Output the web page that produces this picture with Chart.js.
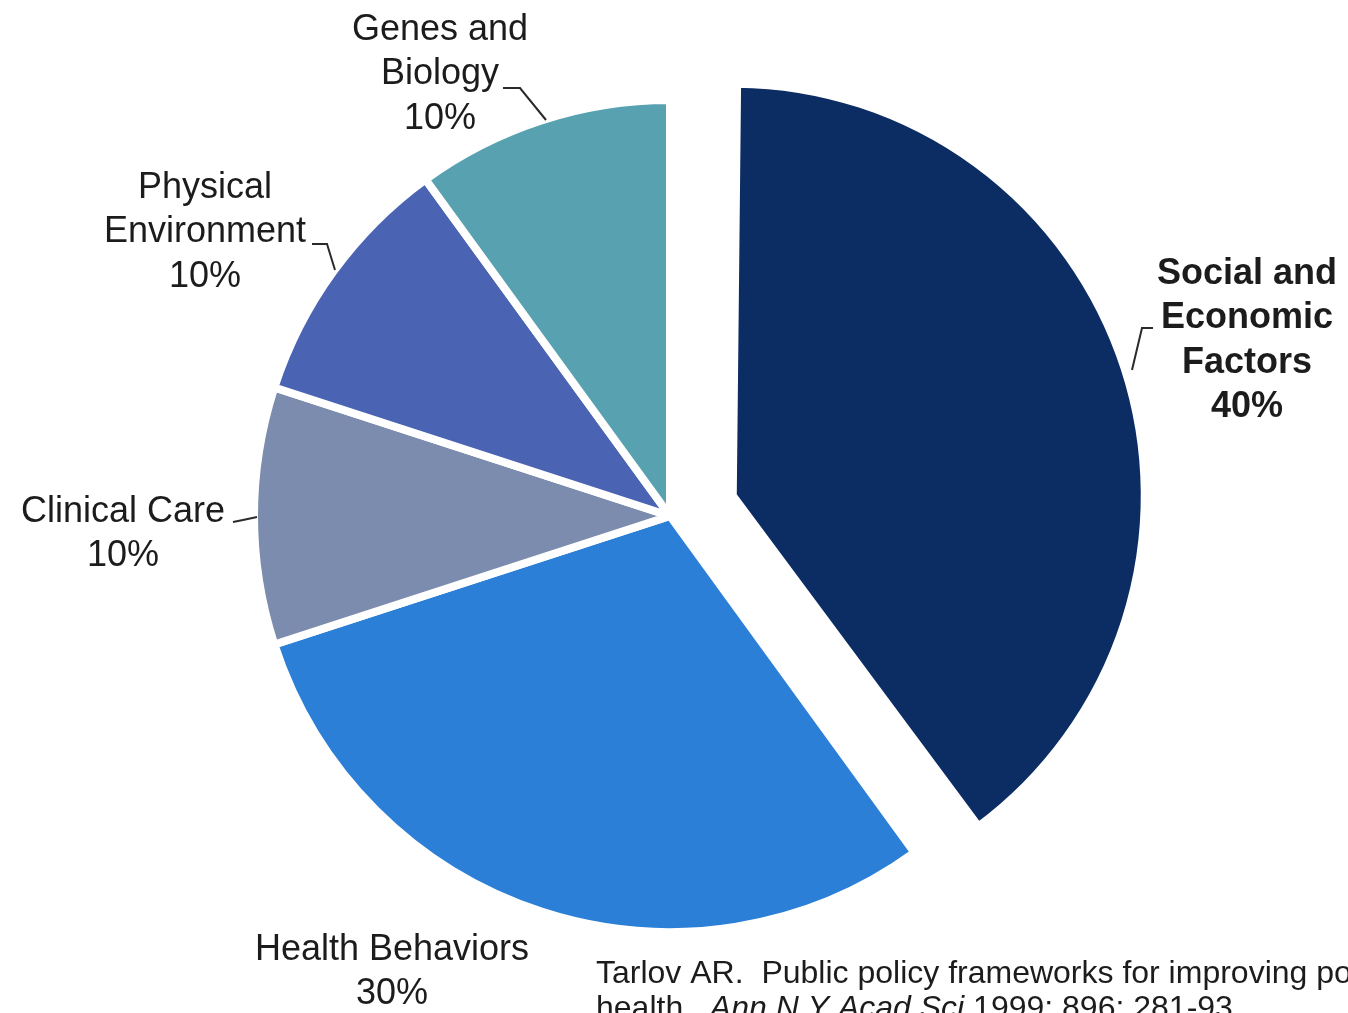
<!DOCTYPE html>
<html lang="en">
<head>
    <title>Determinants of health</title>
    <script src="https://cdn.jsdelivr.net/npm/chart.js"></script>
    <style>
        body { margin: 0; background: #fff; }
    </style>
</head>
<body>

<canvas id="myChart" width="1348" height="1013"></canvas>

<script>
    // data, clockwise from 12 o'clock
    var categories = ["Social and Economic Factors", "Health Behaviors", "Clinical Care", "Physical Environment", "Genes and Biology"];
    var percents = [40, 30, 10, 10, 10];
    var sliceColors = ["#0c2c64", "#2b7fd6", "#7b8cae", "#4a63b2", "#58a1b0"];
    var explode = [264, 0, 0, 0, 0];

    // label text per slice, one entry per line
    var labelLines = [
        ["Social and", "Economic", "Factors", "40%"],
        ["Health Behaviors", "30%"],
        ["Clinical Care", "10%"],
        ["Physical", "Environment", "10%"],
        ["Genes and", "Biology", "10%"]
    ];

    // where the labels sit and their little leader lines
    var labelPos = [
        { x: 1247, y: 274, bold: true, line: [[1153, 328], [1142, 328], [1132, 370]] },
        { x: 392, y: 950, bold: false, line: null },
        { x: 123, y: 512, bold: false, line: [[233, 522], [243, 520], [257, 517]] },
        { x: 205, y: 188, bold: false, line: [[312, 244], [327, 244], [335, 270]] },
        { x: 440, y: 30, bold: false, line: [[503, 88], [520, 88], [546, 120]] }
    ];

    // Chart.js grows an exploded arc a bit, take that back out
    var explodeFix = {
        id: "explodeFix",
        afterDatasetUpdate: function(chart, args) {
            var meta = chart.getDatasetMeta(args.index);
            meta.data.forEach(function(arc, i) {
                var off = (explode[i] || 0) / 4;
                if (off) {
                    var circ = arc.endAngle - arc.startAngle;
                    var fix = 1 - Math.sin(Math.min(Math.PI, circ));
                    arc.outerRadius = arc.outerRadius - off * fix - 4;
                }
            });
        }
    };

    var pieLabels = {
        id: "pieLabels",
        afterDraw: function(chart) {
            var ctx = chart.ctx;
            ctx.save();
            ctx.fillStyle = "#1c1c1c";
            ctx.strokeStyle = "#2a2a2a";
            ctx.lineWidth = 2;
            ctx.textAlign = "center";
            ctx.textBaseline = "middle";
            for (var i = 0; i < labelLines.length; i++) {
                var p = labelPos[i];
                ctx.font = (p.bold ? "bold " : "") + "36px 'Liberation Sans', Arial, sans-serif";
                for (var j = 0; j < labelLines[i].length; j++) {
                    ctx.fillText(labelLines[i][j], p.x, p.y + j * 44.5);
                }
                if (p.line) {
                    ctx.beginPath();
                    ctx.moveTo(p.line[0][0], p.line[0][1]);
                    for (var k = 1; k < p.line.length; k++) {
                        ctx.lineTo(p.line[k][0], p.line[k][1]);
                    }
                    ctx.stroke();
                }
            }

            // source note, cut off by the edge like in the slide
            ctx.textAlign = "left";
            ctx.textBaseline = "alphabetic";
            ctx.font = "32px 'Liberation Sans', Arial, sans-serif";
            ctx.fillText("Tarlov AR.  Public policy frameworks for improving population", 596, 983);
            var x = 596;
            var parts = [["health.  ", false], ["Ann N Y Acad Sci", true], [" 1999; 896: 281-93.", false]];
            parts.forEach(function(part) {
                ctx.font = (part[1] ? "italic " : "") + "32px 'Liberation Sans', Arial, sans-serif";
                ctx.fillText(part[0], x, 1018);
                x += ctx.measureText(part[0]).width;
            });
            ctx.restore();
        }
    };

    var ctx = document.getElementById("myChart").getContext("2d");
    var myChart = new Chart(ctx, {
        type: "pie",
        data: {
            labels: categories,
            datasets: [
                {
                    data: percents,
                    backgroundColor: sliceColors,
                    borderColor: "#ffffff",
                    borderWidth: 8,
                    offset: explode
                }
            ]
        },
        options: {
            responsive: false,
            animation: false,
            radius: 416,
            layout: {
                padding: { left: 0, right: 8, top: 19, bottom: 0 }
            },
            plugins: {
                legend: { display: false },
                tooltip: { enabled: false }
            }
        },
        plugins: [explodeFix, pieLabels]
    });
</script>
</body>
</html>
